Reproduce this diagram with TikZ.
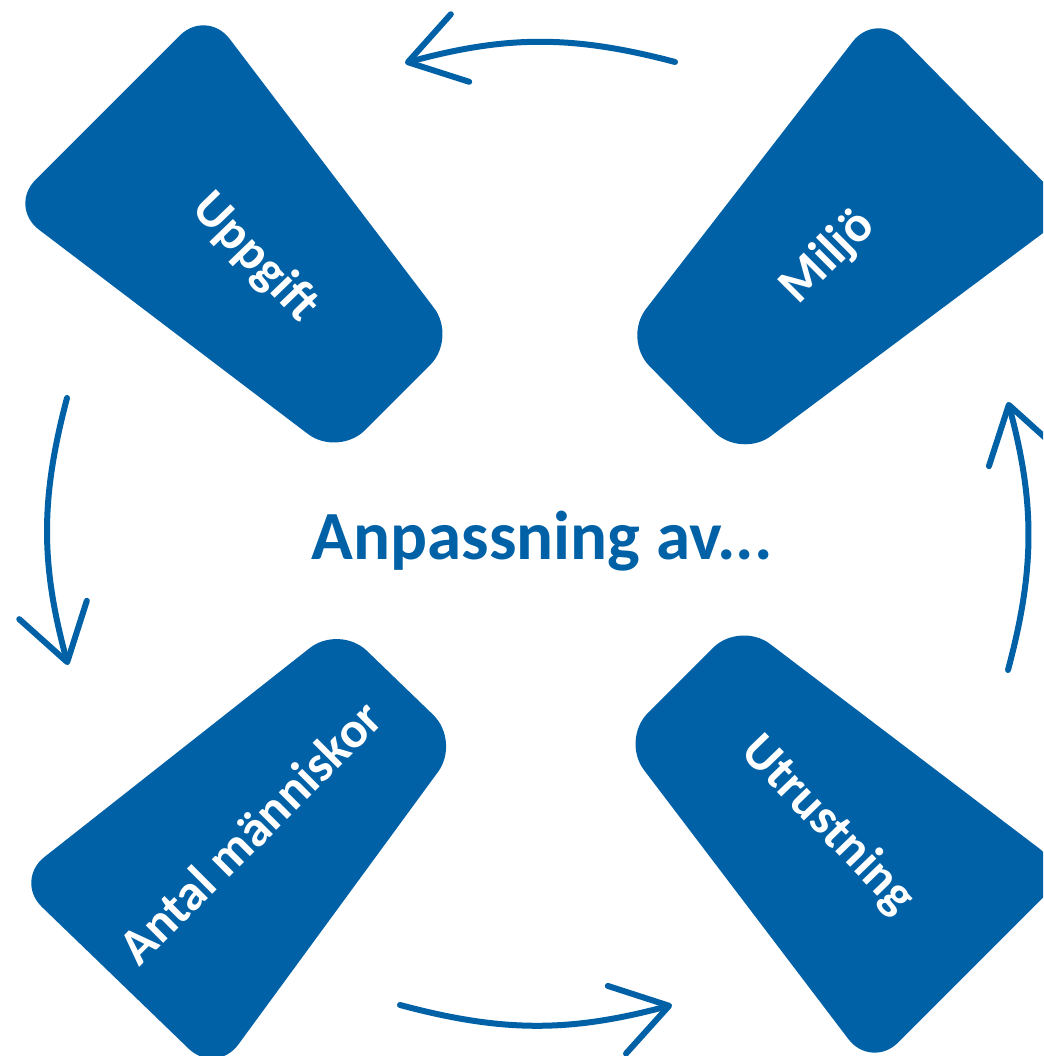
\documentclass[tikz,border=0pt]{standalone}
\usepackage{fontspec}
\setmainfont{Carlito}
\usetikzlibrary{arrows.meta}
\definecolor{blu}{RGB}{0,97,166}
\tikzset{
  card/.style={fill=blu, rounded corners=38pt},
  cardtext/.style={text=white, font=\fontsize{51}{60}\selectfont\bfseries, inner sep=0pt},
  cyc/.style={draw=blu, line width=6pt, line cap=round, -{Straight Barb[length=54pt,width=70pt,round]}},
}
\begin{document}
\begin{tikzpicture}[x=1pt,y=1pt]
\useasboundingbox (0,0) rectangle (1043,1056);
\clip (0,0) rectangle (1043,1056);
\coordinate (C) at (539,517);
% cards
\begin{scope}[shift={(C)}, rotate=135]
  \fill[card] (200,-84) -- (610,-140) -- (610,140) -- (200,84) -- cycle;
\end{scope}
\begin{scope}[shift={(C)}, rotate=44.5]
  \fill[card] (200,-84) -- (610,-140) -- (610,140) -- (200,84) -- cycle;
\end{scope}
\begin{scope}[shift={(C)}, rotate=226]
  \fill[card] (200,-84) -- (610,-140) -- (610,140) -- (200,84) -- cycle;
\end{scope}
\begin{scope}[shift={(C)}, rotate=315]
  \fill[card] (200,-84) -- (610,-140) -- (610,140) -- (200,84) -- cycle;
\end{scope}
% labels
\node[cardtext, rotate=-46] (uppgift) at (255,798) {Uppgift};
\node[cardtext, rotate=45] (miljo) at (828,799) {Miljö};
\node[cardtext, rotate=45] (antal) at (250,224) {Antal människor};
\node[cardtext, rotate=-46] (utr) at (828,231) {Utrustning};
% centre text
\node[font=\fontsize{69}{80}\selectfont\bfseries, text=blu, anchor=base, inner sep=0pt] (title) at (542,496) {Anpassning av...};
% cycle arrows
\coordinate (a1) at (675,994); \coordinate (a2) at (405,993);
\coordinate (b1) at (67,658);  \coordinate (b2) at (68,391);
\coordinate (c1) at (400,51);  \coordinate (c2) at (672,51);
\coordinate (d1) at (1008,386); \coordinate (d2) at (1008,654);
\draw[cyc] (a1) to[bend right=15] (a2);
\draw[cyc] (b1) to[bend right=15] (b2);
\draw[cyc] (c1) to[bend right=15] (c2);
\draw[cyc] (d1) to[bend right=15] (d2);
\end{tikzpicture}
\end{document}
